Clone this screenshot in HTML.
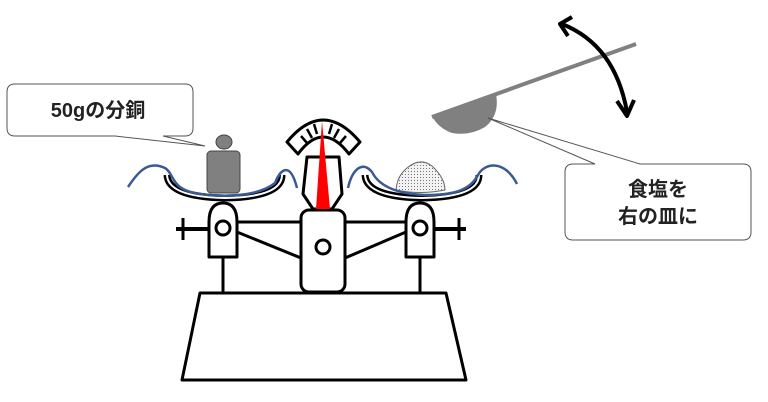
<!DOCTYPE html>
<html><head><meta charset="utf-8"><style>
html,body{margin:0;padding:0;background:#fff;}
svg{display:block;}
text{font-family:"Liberation Sans","Noto Sans CJK JP",sans-serif;font-weight:bold;fill:#222;}
</style></head><body>
<svg width="768" height="402" viewBox="0 0 768 402" xmlns="http://www.w3.org/2000/svg">
<defs>
<pattern id="dots" width="3" height="3" patternUnits="userSpaceOnUse"><rect width="3" height="3" fill="#f2f2f2"/><rect width="1" height="1" fill="#777"/></pattern>
</defs>
<g stroke="#000" stroke-width="3" fill="#fff" stroke-linejoin="round">
<polygon points="200,293 446,293 466,380 182,380"/>
<line x1="223" y1="257" x2="223" y2="293"/>
<line x1="420" y1="257" x2="420" y2="293"/>
<line x1="237" y1="222" x2="301" y2="222"/>
<line x1="345" y1="222" x2="406" y2="222"/>
<line x1="237" y1="232" x2="301" y2="258"/>
<line x1="345" y1="258" x2="406" y2="232"/>
<line x1="176" y1="229" x2="209" y2="229" stroke-width="4"/>
<line x1="183" y1="218" x2="183" y2="240" stroke-width="3"/>
<line x1="434" y1="229" x2="466" y2="229" stroke-width="4"/>
<line x1="459" y1="218" x2="459" y2="240" stroke-width="3"/>
<path d="M209,257 L209,222 Q209,203 223,203 Q237,203 237,222 L237,257 Z"/>
<circle cx="223" cy="228" r="7"/>
<path d="M406,257 L406,222 Q406,203 420,203 Q434,203 434,222 L434,257 Z"/>
<circle cx="420" cy="228" r="7"/>
<rect x="301" y="210" width="44" height="82" rx="8"/>
<circle cx="323" cy="247" r="7"/>
<polygon points="307,157 339,157 342,194 332,209 313,209 303,194"/>
<!-- dial band -->
<path d="M287,142 Q323,98 360,142 L349,154 Q323,120 298,154 Z"/>
<g stroke-width="2.5">
<line x1="301" y1="136" x2="307" y2="143"/>
<line x1="307" y1="129" x2="312" y2="138"/>
<line x1="314" y1="124" x2="317" y2="134"/>
<line x1="332" y1="124" x2="329" y2="134"/>
<line x1="339" y1="129" x2="334" y2="138"/>
<line x1="346" y1="136" x2="340" y2="143"/>
</g>
<polygon points="322,121 330,209 316,209" fill="#f00" stroke="none"/>
<path d="M167,175 Q168,197 225,198 Q282,197 282,175" fill="none" stroke-width="7"/>
<path d="M167,175 Q168,197 225,198 Q282,197 282,175" fill="none" stroke="#fff" stroke-width="2"/>
<path d="M365,175 Q366,197 422,198 Q479,197 479,175" fill="none" stroke-width="7"/>
<path d="M365,175 Q366,197 422,198 Q479,197 479,175" fill="none" stroke="#fff" stroke-width="2"/>
<ellipse cx="224" cy="142" rx="8" ry="7" fill="#808080" stroke="#444" stroke-width="1"/>
<rect x="207" y="151" width="33" height="42" rx="4" fill="#808080" stroke="#444" stroke-width="1"/>
<path d="M396,190 Q397,176 407,168 Q420,157 432,166 Q445,178 445,190 Q420,195 396,190 Z" fill="url(#dots)" stroke="#666" stroke-width="1"/>
</g>
<g fill="none" stroke="#3a5a96" stroke-width="2.5">
<path d="M128,187 C138,172 148,160 165,168 C175,174 170,190 200,194 C230,198 260,195 275,183 C280,170 290,160 297,188"/>
<path d="M348,188 C352,170 362,160 372,172 C380,188 400,194 425,195 C455,195 470,190 478,175 C485,162 505,160 517,184"/>
</g>
<line x1="432" y1="117" x2="636" y2="44" stroke="#808080" stroke-width="4"/>
<path d="M432,116 L496,94 Q500,115 485,127 Q470,136 452,133 Q438,128 432,116 Z" fill="#808080"/>
<path d="M562,24 Q615,45 627,112" fill="none" stroke="#000" stroke-width="4"/>
<polyline points="572,17 560,24 568,36" fill="none" stroke="#000" stroke-width="4" stroke-linejoin="round"/>
<polyline points="617,101 627,116 634,100" fill="none" stroke="#000" stroke-width="4" stroke-linejoin="round"/>
<g fill="#fff" stroke="#555" stroke-width="1">
<path d="M15,84 L185,84 Q193,84 193,92 L193,128 Q193,136 185,136 L163,136 L205,146 L115,136 L15,136 Q7,136 7,128 L7,92 Q7,84 15,84 Z"/>
<path d="M573,164 L595,164 L488,118 L640,164 L743,164 Q751,164 751,172 L751,232 Q751,240 743,240 L573,240 Q565,240 565,232 L565,172 Q565,164 573,164 Z"/>
</g>
<text x="98" y="117" font-size="20" text-anchor="middle">50gの分銅</text>
<text x="658" y="196" font-size="20" text-anchor="middle">食塩を</text>
<text x="658" y="223" font-size="20" text-anchor="middle">右の皿に</text>
</svg>
</body></html>
